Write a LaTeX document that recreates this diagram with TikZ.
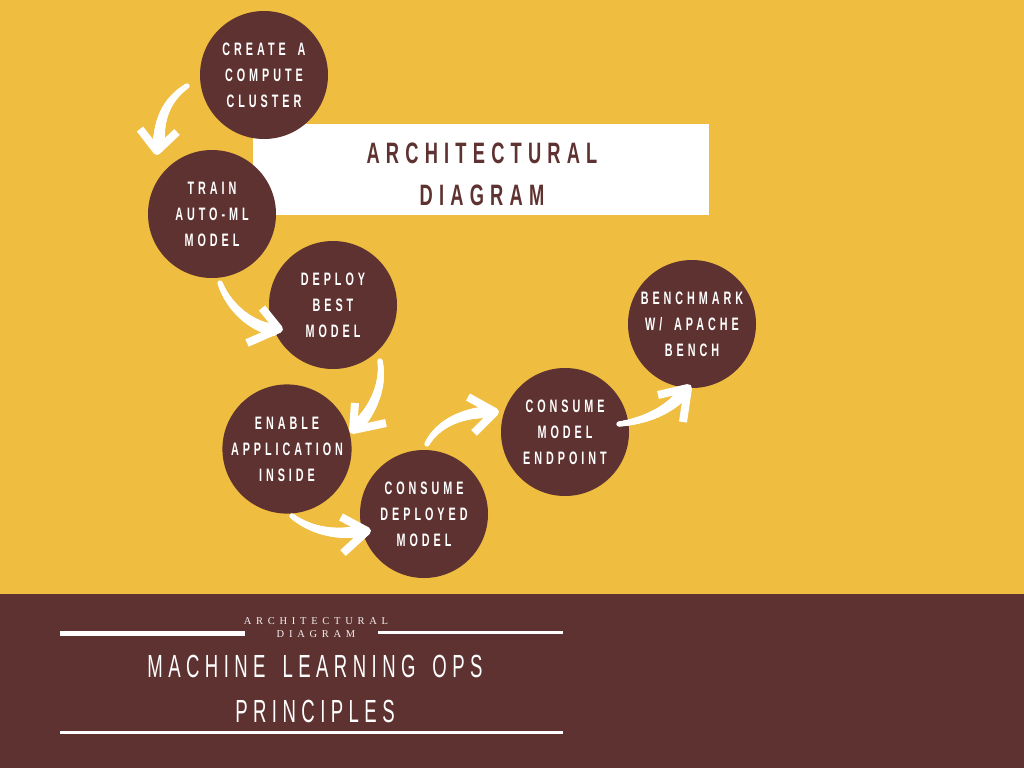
\documentclass[tikz,border=0pt]{standalone}
\usepackage{fontspec}
\usetikzlibrary{decorations.markings}

% condensed, tracked capitals for the stage labels and titles
\newfontfamily\labelfont[FakeStretch=0.6,LetterSpace=22,WordSpace=1.7]{Liberation Sans}
\newfontfamily\headfont[FakeStretch=0.62,LetterSpace=21,WordSpace=2]{Liberation Sans}
\newfontfamily\footfont[FakeStretch=0.58,LetterSpace=17,WordSpace=1.6]{Liberation Sans}
\newfontfamily\smallserif[LetterSpace=45,WordSpace=1.5]{Liberation Serif}

\definecolor{sun}{HTML}{EFBD40}
\definecolor{maroon}{HTML}{5E3230}

\tikzset{
  stage/.style={circle, fill=maroon, minimum size=128pt, inner sep=0pt,
    text=white, align=center,
    font=\labelfont\bfseries\fontsize{18}{26}\selectfont},
  % brush stroke: a chain of discs that widens from the tail
  brush/.style={decoration={markings,
      mark=between positions 0 and 1 step 0.01 with {
        \pgfmathsetmacro\brushr{2.6+3.4*\pgfkeysvalueof{/pgf/decoration/mark info/sequence number}/101}
        \fill[white] (0pt,0pt) circle[radius=\brushr pt];}},
    decorate},
  brushhead/.style={draw=white, line width=8pt, line join=round, line cap=butt},
}

\begin{document}
\begin{tikzpicture}[x=1pt,y=-1pt]
\useasboundingbox (0,0) rectangle (1024,768);

% background and footer band
\fill[sun] (0,0) rectangle (1024,594);
\fill[maroon] (0,594) rectangle (1024,768);

% title card
\fill[white] (253,124) rectangle (709,215);
\node[text=maroon, align=center,
      font=\headfont\bfseries\fontsize{29.5}{42}\selectfont] (title) at (482,174)
  {ARCHITECTURAL\\DIAGRAM};

% process stages
\node[stage] (cluster)   at (264,75)  {CREATE A\\COMPUTE\\CLUSTER};
\node[stage] (train)     at (212,214) {TRAIN\\AUTO-ML\\MODEL};
\node[stage] (deploy)    at (333,305) {DEPLOY\\BEST\\MODEL};
\node[stage] (enable)    at (287,449) {ENABLE\\APPLICATION\\INSIDE};
\node[stage] (consume)   at (424,514) {CONSUME\\DEPLOYED\\MODEL};
\node[stage] (endpoint)  at (565,432) {CONSUME\\MODEL\\ENDPOINT};
\node[stage] (benchmark) at (692,324) {BENCHMARK\\W/ APACHE\\BENCH};

% arrow tails, tips and head wings
\coordinate (t1) at (187,86);  \coordinate (h1) at (157,151);
\coordinate (l1) at (140,129); \coordinate (r1) at (177,132);
\coordinate (t2) at (220,283); \coordinate (h2) at (279,329);
\coordinate (l2) at (262,308); \coordinate (r2) at (247,343);
\coordinate (t3) at (380,361); \coordinate (h3) at (353,430);
\coordinate (l3) at (355,403); \coordinate (r3) at (386,423);
\coordinate (t4) at (292,516); \coordinate (h4) at (367,531);
\coordinate (l4) at (341,517); \coordinate (r4) at (343,553);
\coordinate (t5) at (427,444); \coordinate (h5) at (495,412);
\coordinate (l5) at (468,397); \coordinate (r5) at (474,433);
\coordinate (t6) at (619,424); \coordinate (h6) at (688,388);
\coordinate (l6) at (658,395); \coordinate (r6) at (683,422);

% curved brush arrows between the stages
\path[brush] (t1) .. controls (166,100) and (159,120) .. (159,143);
\draw[brushhead] (l1) -- (h1) -- (r1);
\path[brush] (t2) .. controls (228,305) and (248,325) .. (273,330);
\draw[brushhead] (l2) -- (h2) -- (r2);
\path[brush] (t3) .. controls (384,385) and (373,410) .. (357,426);
\draw[brushhead] (l3) -- (h3) -- (r3);
\path[brush] (t4) .. controls (310,530) and (335,536) .. (361,531);
\draw[brushhead] (l4) -- (h4) -- (r4);
\path[brush] (t5) .. controls (437,425) and (460,413) .. (489,412);
\draw[brushhead] (l5) -- (h5) -- (r5);
\path[brush] (t6) .. controls (645,421) and (670,410) .. (684,392);
\draw[brushhead] (l6) -- (h6) -- (r6);

% footer heading
\node[text=white!92!maroon, align=center,
      font=\smallserif\fontsize{10.5}{13}\selectfont] (kicker) at (316,628)
  {ARCHITECTURAL\\DIAGRAM};
\node[text=white, align=center,
      font=\footfont\fontsize{32}{45}\selectfont] (footer) at (315,689)
  {MACHINE LEARNING OPS\\PRINCIPLES};
\draw[white, line width=4.5pt] (60,633.5) -- (245,633.5);
\draw[white, line width=3pt] (378,632.5) -- (563,632.5);
\draw[white, line width=3pt] (60,732.5) -- (563,732.5);
\end{tikzpicture}
\end{document}
